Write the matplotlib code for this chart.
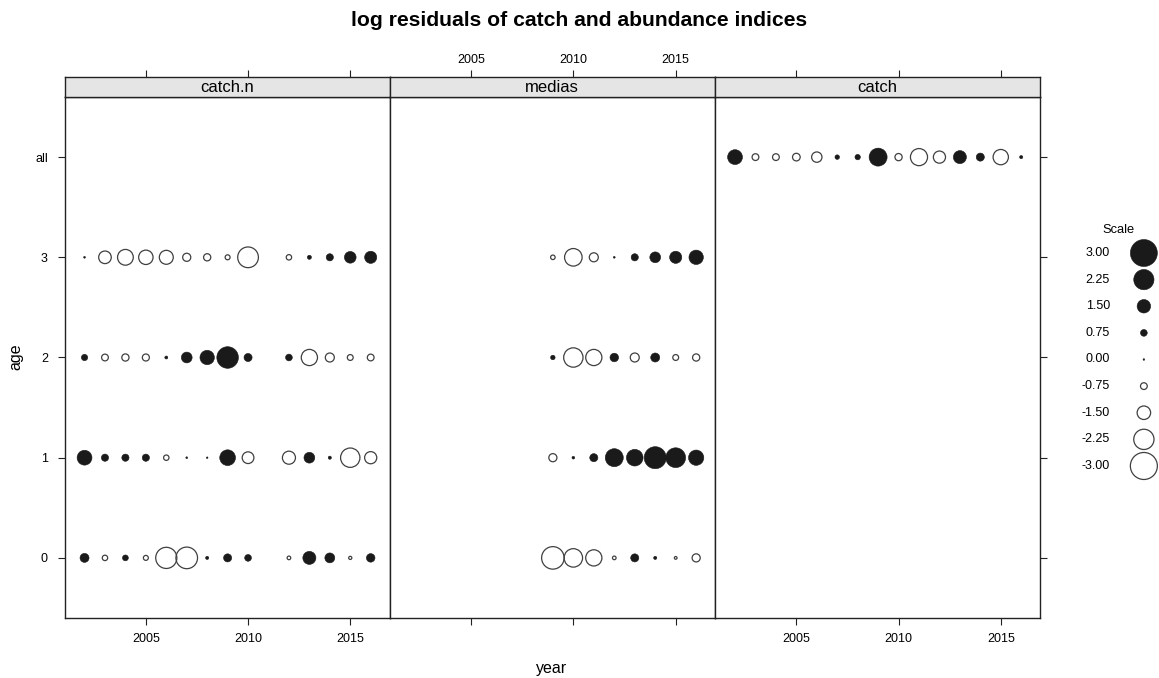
import numpy as np
import matplotlib
matplotlib.use("Agg")
import matplotlib.pyplot as plt

plt.rcParams['font.family'] = ['Liberation Sans', 'DejaVu Sans']

# ---- data: log residuals ----
age_labels = ['0', '1', '2', '3', 'all']

catchn_years = [2002, 2003, 2004, 2005, 2006, 2007, 2008, 2009, 2010,
                2012, 2013, 2014, 2015, 2016]
catchn_age0 = [1.0, -0.6, 0.65, -0.55, -2.35, -2.4, 0.35, 0.9, 0.75,
               -0.4, 1.45, 1.1, -0.35, 0.95]
catchn_age1 = [1.65, 0.8, 0.8, 0.8, -0.6, 0.2, 0.15, 1.75, -1.3,
               -1.45, 1.2, 0.35, -2.15, -1.35]
catchn_age2 = [0.7, -0.75, -0.8, -0.78, 0.33, 1.2, 1.6, 2.4, 0.9,
               0.75, -1.8, -1.0, -0.65, -0.75]
catchn_age3 = [0.2, -1.4, -1.75, -1.6, -1.55, -0.9, -0.8, -0.55, -2.3,
               -0.6, 0.45, 0.8, 1.3, 1.35]

medias_years = [2009, 2010, 2011, 2012, 2013, 2014, 2015, 2016]
medias_age0 = [-2.5, -2.05, -1.8, -0.4, 0.9, 0.35, -0.3, -0.9]
medias_age1 = [-0.9, 0.3, 0.9, 2.0, 1.85, 2.45, 2.2, 1.7]
medias_age2 = [0.5, -2.15, -1.8, 0.95, -1.0, 1.0, -0.65, -0.8]
medias_age3 = [-0.5, -1.95, -1.0, 0.2, 0.8, 1.2, 1.35, 1.6]

catch_years = list(range(2002, 2017))
catch_all = [1.65, -0.75, -0.75, -0.85, -1.15, 0.5, 0.6, 2.0, -0.8,
             -1.9, -1.35, 1.45, 0.9, -1.7, 0.35]

scale_vals = [3.00, 2.25, 1.50, 0.75, 0.00, -0.75, -1.50, -2.25, -3.00]

panels = [
    ('catch.n', [(0, catchn_years, catchn_age0), (1, catchn_years, catchn_age1),
                 (2, catchn_years, catchn_age2), (3, catchn_years, catchn_age3)]),
    ('medias', [(0, medias_years, medias_age0), (1, medias_years, medias_age1),
                (2, medias_years, medias_age2), (3, medias_years, medias_age3)]),
    ('catch', [(4, catch_years, catch_all)]),
]

# ---- layout (pixels) ----
W, H = 1159, 678
fig = plt.figure(figsize=(W / 100, H / 100), dpi=100)


def box(x0, y0, x1, y1):
    return [x0 / W, 1 - y1 / H, (x1 - x0) / W, (y1 - y0) / H]


edges = [64.5, 389.5, 715, 1040]
strip_top, strip_bot, panel_bot = 77, 97, 618
frame_col = '#222222'
fill_col = '#1a1a1a'
open_col = '#404040'


def bsize(v):
    d_px = np.maximum(9.0 * np.abs(np.asarray(v, float)), 1.6)
    return (d_px * 0.72) ** 2


def bubbles(ax, x, y, v):
    x = np.asarray(x, float)
    y = np.asarray(y, float)
    v = np.asarray(v, float)
    pos = v >= 0
    ax.scatter(x[pos], y[pos], s=bsize(v[pos]), c=fill_col,
               edgecolors=fill_col, linewidths=0.4, zorder=3)
    ax.scatter(x[~pos], y[~pos], s=bsize(v[~pos]), facecolors='none',
               edgecolors=open_col, linewidths=0.9, zorder=3)


xlim = (2001.02, 2016.92)
xticks = [2005, 2010, 2015]

for i, (name, rows) in enumerate(panels):
    ax = fig.add_axes(box(edges[i], strip_bot, edges[i + 1], panel_bot))
    st = fig.add_axes(box(edges[i], strip_top, edges[i + 1], strip_bot), sharex=ax)

    for age, yrs, vals in rows:
        bubbles(ax, yrs, [age] * len(yrs), vals)

    ax.set_xlim(*xlim)
    ax.set_ylim(-0.6, 4.6)
    ax.set_xticks(xticks)
    ax.set_yticks(range(len(age_labels)))
    ax.set_yticklabels(age_labels)
    for a in (ax, st):
        for sp in a.spines.values():
            sp.set_color(frame_col)
            sp.set_linewidth(1.0)
        a.tick_params(direction='out', length=5, width=0.8, color=frame_col,
                      labelsize=9, labelcolor='black')

    # bottom ticks, labelled on outer panels only
    ax.tick_params(axis='x', bottom=True, top=False, labelbottom=(i != 1),
                   labeltop=False, pad=6)
    # y ticks: left on first panel, right on last
    ax.tick_params(axis='y', left=(i == 0), labelleft=(i == 0),
                   right=(i == 2), labelright=False, pad=7)

    # strip
    st.set_facecolor('#e5e5e5')
    st.set_ylim(0, 1)
    st.set_yticks([])
    st.tick_params(axis='x', bottom=False, labelbottom=False, top=True,
                   labeltop=(i == 1), pad=3)
    st.text(0.5, 0.45, name, transform=st.transAxes, ha='center', va='center',
            fontsize=12)

fig.text(0.5, 1 - 20 / H, 'log residuals of catch and abundance indices',
         ha='center', va='center', fontsize=15.2, fontweight='bold')
fig.text(552 / W, 1 - 668 / H, 'year', ha='center', va='center', fontsize=11.5)
fig.text(16 / W, 1 - 357 / H, 'age', ha='center', va='center', fontsize=11.5,
         rotation=90)

# ---- legend ----
lg = fig.add_axes(box(1070, 226.4, 1159, 492.6))
lg.set_axis_off()
lg.set_xlim(0, 1)
lg.set_ylim(len(scale_vals), -1)
rows = np.arange(len(scale_vals))
bubbles(lg, np.full(len(scale_vals), 0.83), rows, scale_vals)
for r, v in zip(rows, scale_vals):
    lg.text(0.45, r, '%.2f' % v, ha='right', va='center', fontsize=9)
lg.text(0.55, -0.86, 'Scale', ha='center', va='center', fontsize=9.3)

fig.savefig('out.png', dpi=100)
